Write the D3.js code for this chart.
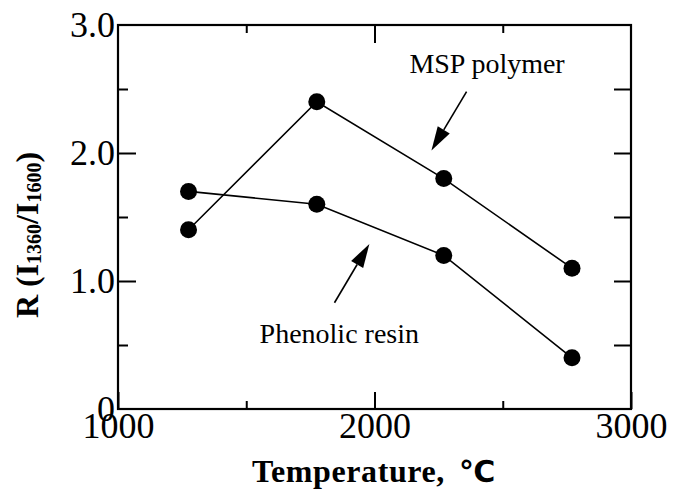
<!DOCTYPE html>
<html>
<head>
<meta charset="utf-8">
<script src="https://cdn.jsdelivr.net/npm/d3@7"></script>
<style>
  html, body { margin: 0; padding: 0; background: #fff; }
  svg text { fill: #000; }
</style>
</head>
<body>
<svg id="chart" width="686" height="491"></svg>
<script>
// Raman intensity ratio vs. heat-treatment temperature
const temperatures = [1275, 1775, 2270, 2770];
const mspPolymer = [1.4, 2.4, 1.8, 1.1];
const phenolicResin = [1.7, 1.6, 1.2, 0.4];
const seriesNames = ["MSP polymer", "Phenolic resin"];
const xTicks = [1000, 1500, 2000, 2500, 3000];
const xTickLabels = ["1000", "", "2000", "", "3000"];
const yTicks = [0, 0.5, 1.0, 1.5, 2.0, 2.5, 3.0];
const yTickLabels = ["0", "", "1.0", "", "2.0", "", "3.0"];

const svg = d3.select("#chart");
const plotLeft = 118, plotRight = 631, plotTop = 25, plotBottom = 409;
const x = d3.scaleLinear().domain([1000, 3000]).range([plotLeft, plotRight]);
const y = d3.scaleLinear().domain([0, 3]).range([plotBottom, plotTop]);
const serif = "'Liberation Serif', 'Times New Roman', serif";

const isMajorX = d => d % 1000 === 0;
const isMajorY = d => Math.abs(d - Math.round(d)) < 1e-9;

// bottom axis: ticks point into the plot
const gx = svg.append("g").attr("transform", `translate(0,${plotBottom})`)
  .call(d3.axisBottom(x).tickValues(xTicks)
    .tickFormat((d, i) => xTickLabels[i]).tickSizeOuter(0).tickPadding(0));
gx.select(".domain").remove();
gx.selectAll(".tick line").attr("y2", d => isMajorX(d) ? -17 : -8)
  .attr("stroke", "#000").attr("stroke-width", 2);
gx.selectAll(".tick text").attr("y", 29).attr("dy", null)
  .attr("font-family", serif).attr("font-size", 36);

// top axis ticks
const gxt = svg.append("g").attr("transform", `translate(0,${plotTop})`)
  .call(d3.axisTop(x).tickValues(xTicks.filter(d => d > 1000 && d < 3000))
    .tickFormat("").tickSizeOuter(0));
gxt.select(".domain").remove();
gxt.selectAll(".tick line").attr("y2", d => isMajorX(d) ? 18 : 8)
  .attr("stroke", "#000").attr("stroke-width", 2);

// left axis
const gy = svg.append("g").attr("transform", `translate(${plotLeft},0)`)
  .call(d3.axisLeft(y).tickValues(yTicks)
    .tickFormat((d, i) => yTickLabels[i]).tickSizeOuter(0).tickPadding(2));
gy.select(".domain").remove();
gy.selectAll(".tick line")
  .attr("x2", d => (d === 0 || d === 3) ? 0 : (isMajorY(d) ? 18 : 10))
  .attr("stroke", "#000").attr("stroke-width", 2);
gy.selectAll(".tick text").attr("x", -3).attr("dy", 11)
  .attr("font-family", serif).attr("font-size", 36);

// right axis ticks
const gyr = svg.append("g").attr("transform", `translate(${plotRight},0)`)
  .call(d3.axisRight(y).tickValues(yTicks.filter(d => d > 0 && d < 3))
    .tickFormat("").tickSizeOuter(0));
gyr.select(".domain").remove();
gyr.selectAll(".tick line").attr("x2", -17)
  .attr("stroke", "#000").attr("stroke-width", 2);

// frame
svg.append("rect")
  .attr("x", x(1000)).attr("y", y(3))
  .attr("width", x(3000) - x(1000)).attr("height", y(0) - y(3))
  .attr("fill", "none").attr("stroke", "#000").attr("stroke-width", 2.2);

// series
const line = d3.line().x(d => x(d[0])).y(d => y(d[1]));
[mspPolymer, phenolicResin].forEach(vals => {
  const pts = temperatures.map((t, i) => [t, vals[i]]);
  svg.append("path").datum(pts).attr("d", line)
    .attr("fill", "none").attr("stroke", "#000").attr("stroke-width", 1.6);
  svg.append("g").selectAll("circle").data(pts).join("circle")
    .attr("cx", d => x(d[0])).attr("cy", d => y(d[1])).attr("r", 8.5)
    .attr("fill", "#000");
});

// annotation arrows with filled heads
function arrow(x0, y0, x1, y1) {
  const ax0 = x(x0), ay0 = y(y0), ax1 = x(x1), ay1 = y(y1);
  const ang = Math.atan2(ay1 - ay0, ax1 - ax0);
  const len = 24, half = 7;
  const bx = ax1 - len * Math.cos(ang), by = ay1 - len * Math.sin(ang);
  svg.append("line").attr("x1", ax0).attr("y1", ay0).attr("x2", bx).attr("y2", by)
    .attr("stroke", "#000").attr("stroke-width", 1.6);
  const p1 = [bx + half * Math.sin(ang), by - half * Math.cos(ang)];
  const p2 = [bx - half * Math.sin(ang), by + half * Math.cos(ang)];
  svg.append("path").attr("d", `M${ax1},${ay1}L${p1}L${p2}Z`).attr("fill", "#000");
}
arrow(2359, 2.48, 2222, 2.02);
arrow(1844, 0.83, 1980, 1.29);

svg.append("text").attr("x", x(2136)).attr("y", y(2.625))
  .attr("font-family", serif).attr("font-size", 28).text(seriesNames[0]);
svg.append("text").attr("x", x(1552)).attr("y", y(0.516))
  .attr("font-family", serif).attr("font-size", 28).text(seriesNames[1]);

// axis titles
const xt = svg.append("text").attr("x", 252).attr("y", 482)
  .attr("font-family", serif).attr("font-size", 32).attr("font-weight", "bold");
xt.append("tspan").attr("letter-spacing", 0.6).text("Temperature,");
xt.append("tspan").attr("dx", 14).attr("font-family", "'DejaVu Sans', sans-serif")
  .attr("font-size", 30).attr("font-weight", "bold").text("℃");

const yt = svg.append("text")
  .attr("transform", "translate(38,235) rotate(-90)")
  .attr("text-anchor", "middle")
  .attr("font-family", serif).attr("font-size", 32).attr("font-weight", "bold");
yt.append("tspan").text("R (I");
yt.append("tspan").attr("font-size", 20).attr("dy", 3).text("1360");
yt.append("tspan").attr("dy", -3).text("/I");
yt.append("tspan").attr("font-size", 20).attr("dy", 3).text("1600");
yt.append("tspan").attr("dy", -3).text(")");
</script>
</body>
</html>
